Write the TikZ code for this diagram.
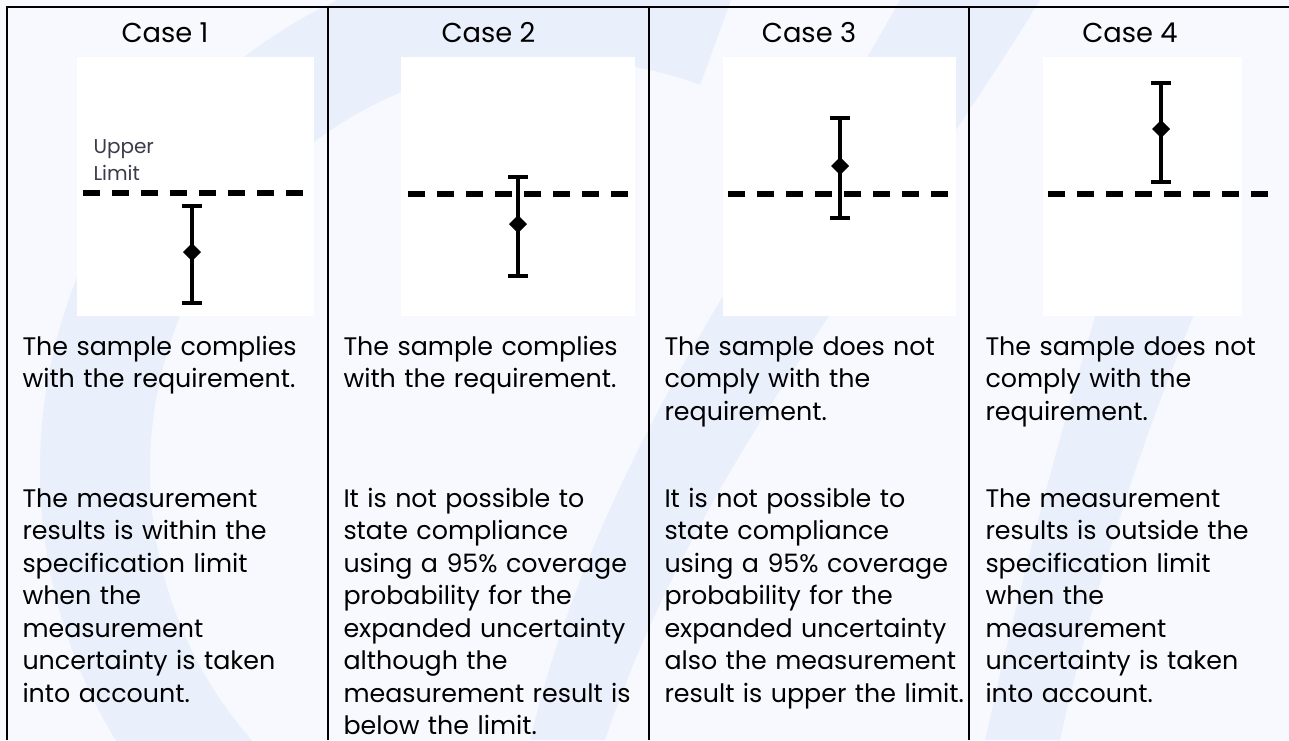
\documentclass[tikz,border=0pt]{standalone}
\usepackage{fontspec}
\setmainfont{Poppins}
\definecolor{pagebg}{RGB}{247,249,254}
\definecolor{wmark}{RGB}{233,239,251}
\definecolor{lbl}{RGB}{62,58,74}

\tikzset{every picture/.style={line width=0.75pt}}
\tikzset{
  rule/.style={line width=2pt, black},
  panel/.style={fill=white, draw=none},
  limitline/.style={line width=4.5pt, dash pattern=on 12.75pt off 9pt},
  errbar/.style={line width=2.6pt},
  errcap/.style={line width=3pt},
  casehead/.style={anchor=base, inner sep=0pt, font=\fontsize{20.5}{24}\selectfont},
  celltext/.style={anchor=base west, inner sep=0pt, text width=250pt, align=left,
    font=\fontsize{19}{24.375}\selectfont},
  limitlabel/.style={anchor=base west, inner sep=0pt, align=left, text=lbl,
    font=\fontsize{15}{20.25}\selectfont}
}

\begin{document}
\begin{tikzpicture}[x=0.75pt,y=0.75pt,yscale=-1]
  \useasboundingbox (0,0) rectangle (1289,740);

  %Background
  \fill[pagebg] (0,0) rectangle (1289,740);
  \begin{scope}
    \clip (0,0) rectangle (1289,740);
    %Watermark: big arc
    \fill[wmark] (560,470) ++(290:520) arc[start angle=290, end angle=100, radius=520]
      -- ++(100:-110) arc[start angle=100, end angle=290, radius=410] -- cycle;
    %Watermark: first stroke
    \fill[wmark] (530,740) .. controls (600,450) and (760,250) .. (900,0) -- (1040,0)
      .. controls (880,260) and (700,460) .. (605,740) -- cycle;
    %Watermark: second stroke
    \fill[wmark] (985,740) .. controls (1030,540) and (1070,400) .. (1100,300) -- (1200,300)
      .. controls (1150,420) and (1100,560) .. (1060,740) -- cycle;
  \end{scope}

  %Shape: Table rules
  \draw[rule] (7,7) -- (1289,7);
  \draw[rule] (7,6) -- (7,740);
  \draw[rule] (328,7) -- (328,740);
  \draw[rule] (649,7) -- (649,740);
  \draw[rule] (969,7) -- (969,740);

  % Text Node
  \node (case1) [casehead] at (165,42.7) {Case 1};
  % Text Node
  \node (case2) [casehead] at (488.5,42.7) {Case 2};
  % Text Node
  \node (case3) [casehead] at (809,42.7) {Case 3};
  % Text Node
  \node (case4) [casehead] at (1130,42.7) {Case 4};

  %Shape: Rectangle (case 1 picture)
  \fill[panel] (77,57) rectangle (314,316);
  \draw[limitline] (83,193) -- (303,193);
  \draw[errbar] (192,206) -- (192,303);
  \draw[errcap] (182,206) -- (202,206);
  \draw[errcap] (182,303) -- (202,303);
  \fill (192,243) -- (201,252) -- (192,261) -- (183,252) -- cycle;
  % Text Node
  \node (upper) [limitlabel] at (93,180) {Upper\\Limit};

  %Shape: Rectangle (case 2 picture)
  \fill[panel] (401,57) rectangle (635,316);
  \draw[limitline] (408,194) -- (630,194);
  \draw[errbar] (518,177) -- (518,276);
  \draw[errcap] (508,177) -- (528,177);
  \draw[errcap] (508,276) -- (528,276);
  \fill (518,215) -- (527,224) -- (518,233) -- (509,224) -- cycle;

  %Shape: Rectangle (case 3 picture)
  \fill[panel] (723,57) rectangle (956,316);
  \draw[limitline] (728,194) -- (953,194);
  \draw[errbar] (840,118) -- (840,218);
  \draw[errcap] (830,118) -- (850,118);
  \draw[errcap] (830,218) -- (850,218);
  \fill (840,157) -- (849,166) -- (840,175) -- (831,166) -- cycle;

  %Shape: Rectangle (case 4 picture)
  \fill[panel] (1043,57) rectangle (1242,316);
  \draw[limitline] (1048,194) -- (1273,194);
  \draw[errbar] (1161,83) -- (1161,182);
  \draw[errcap] (1151,83) -- (1171,83);
  \draw[errcap] (1151,182) -- (1171,182);
  \fill (1161,120) -- (1170,129) -- (1161,138) -- (1152,129) -- cycle;

  % Text Node
  \node (verdict1) [celltext] at (22,355) {The sample complies\\with the requirement.};
  % Text Node
  \node (reason1) [celltext] at (22,507) {The measurement\\results is within the\\specification limit\\when the\\measurement\\uncertainty is taken\\into account.};
  % Text Node
  \node (verdict2) [celltext] at (343,355) {The sample complies\\with the requirement.};
  % Text Node
  \node (reason2) [celltext] at (343,507) {It is not possible to\\state compliance\\using a 95\% coverage\\probability for the\\expanded uncertainty\\although the\\measurement result is\\below the limit.};
  % Text Node
  \node (verdict3) [celltext] at (664,355) {The sample does not\\comply with the\\requirement.};
  % Text Node
  \node (reason3) [celltext] at (664,507) {It is not possible to\\state compliance\\using a 95\% coverage\\probability for the\\expanded uncertainty\\also the measurement\\result is upper the limit.};
  % Text Node
  \node (verdict4) [celltext] at (985,355) {The sample does not\\comply with the\\requirement.};
  % Text Node
  \node (reason4) [celltext] at (985,507) {The measurement\\results is outside the\\specification limit\\when the\\measurement\\uncertainty is taken\\into account.};
\end{tikzpicture}
\end{document}
